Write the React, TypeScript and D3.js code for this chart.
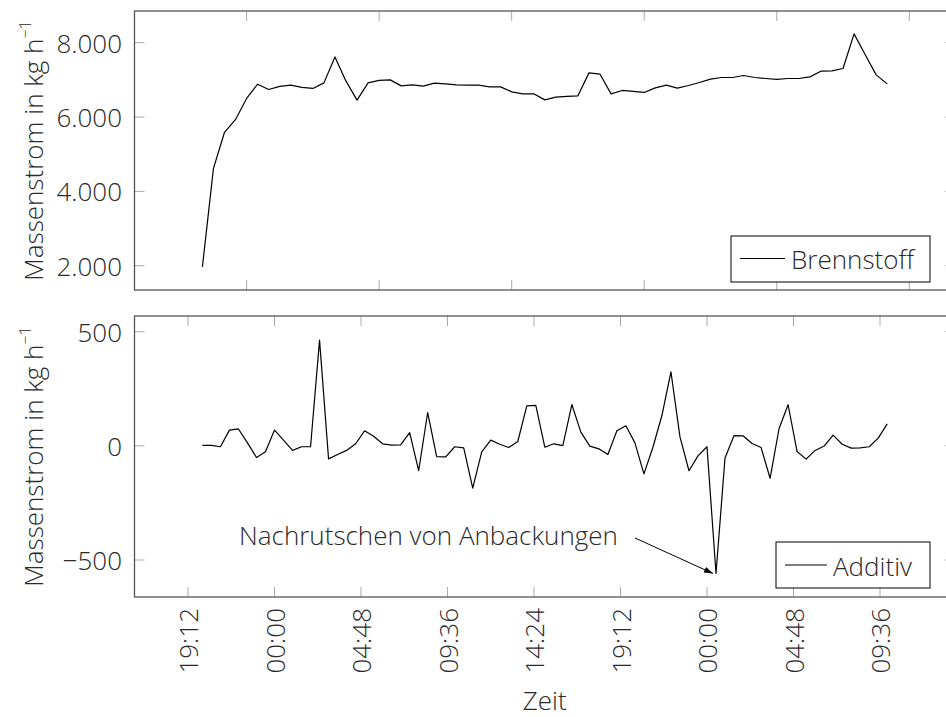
import React from "react";
import * as d3 from "d3";

// Brennstoff (kg/h), 63 samples, evenly spaced from 20:00 (day 1) to 10:00 (day 3)
const brennstoff = [
  1970, 4620, 5590, 5935, 6500, 6884, 6742, 6823, 6858, 6796, 6769, 6919, 7618, 6965, 6454, 6919,
  6984, 7000, 6839, 6866, 6831, 6911, 6892, 6866, 6858, 6858, 6812, 6812, 6677, 6624, 6624, 6462,
  6535, 6554, 6570, 7188, 7153, 6624, 6715, 6688, 6661, 6785, 6858, 6777, 6849, 6930, 7019, 7064,
  7064, 7118, 7064, 7037, 7011, 7037, 7037, 7081, 7234, 7242, 7306, 8237, 7683, 7135, 6892,
];

// Additiv (kg/h), 77 samples, every 30 min from 20:00 (day 1) to 10:00 (day 3)
const additiv = [
  2, 2, -4, 69, 74, 13, -51, -26, 69, 25, -20, -4, -4, 463, -57, -38, -20, 9, 66, 42, 9, 3, 4, 58,
  -109, 146, -47, -48, -4, -9, -185, -26, 25, 7, -7, 19, 175, 177, -6, 9, 1, 181, 60, -1, -13, -38,
  66, 88, 13, -123, -6, 134, 324, 39, -109, -44, -4, -559, -53, 45, 44, 10, -7, -142, 76, 180, -25,
  -58, -20, -1, 47, 7, -10, -9, -4, 34, 96,
];

const startHour = 20; // 20:00 day 1
const endHour = 58; // 10:00 day 3

const xTickHours = [19.2, 24, 28.8, 33.6, 38.4, 43.2, 48, 52.8, 57.6, 62.4];
const xTickLabels = ["19:12", "00:00", "04:48", "09:36", "14:24", "19:12", "00:00", "04:48", "09:36", ""];
const topTickIndex = [-8, 4, 16, 28, 40, 52, 64, 76];

const topYTicks = [2000, 4000, 6000, 8000];
const bottomYTicks = [-500, 0, 500];

const annotationText = "Nachrutschen von Anbackungen";
const yLabel = "Massenstrom in kg h";
const xLabel = "Zeit";

const FONT = "'Open Sans', sans-serif";
const FRAME = "#555";
const TICK = "#aaa";
const TEXT = "#2a2a2a";

const de = d3.formatLocale({ decimal: ",", thousands: ".", grouping: [3], currency: ["", " €"], minus: "\u2212" });
const fmt = de.format(",");

export default function App() {
  const left = 134.5;
  const right = 955;
  const x = d3.scaleLinear().domain([19.2, 57.6]).range([188, 880]);

  const topTime = (i: number) => startHour + (i * (endHour - startHour)) / (brennstoff.length - 1);
  const botTime = (i: number) => startHour + (i * (endHour - startHour)) / (additiv.length - 1);

  const top = { y0: 11, y1: 290 };
  const bot = { y0: 316, y1: 597 };
  const yTop = d3.scaleLinear().domain([2000, 8000]).range([265.7, 42.7]);
  const yBot = d3.scaleLinear().domain([-500, 500]).range([560, 331.7]);

  const lineTop = d3
    .line<number>()
    .x((_, i) => x(topTime(i)))
    .y((d) => yTop(d));
  const lineBot = d3
    .line<number>()
    .x((_, i) => x(botTime(i)))
    .y((d) => yBot(d));

  const tickLen = 10;
  const fs = 26;

  const frame = (p: { y0: number; y1: number }) => (
    <rect x={left} y={p.y0} width={right - left} height={p.y1 - p.y0} fill="none" stroke={FRAME} strokeWidth={1.3} />
  );

  const vTicks = (xs: number[], p: { y0: number; y1: number }) =>
    xs
      .filter((v) => v > left && v < right)
      .map((v, i) => (
        <g key={i}>
          <line x1={v} x2={v} y1={p.y0} y2={p.y0 + tickLen} stroke={TICK} />
          <line x1={v} x2={v} y1={p.y1} y2={p.y1 - tickLen} stroke={TICK} />
        </g>
      ));

  const hTicks = (vals: number[], y: d3.ScaleLinear<number, number>) =>
    vals.map((v, i) => (
      <g key={i}>
        <line x1={left} x2={left + tickLen} y1={y(v)} y2={y(v)} stroke={TICK} />
        <line x1={right} x2={right - tickLen} y1={y(v)} y2={y(v)} stroke={TICK} />
        <text x={122} y={y(v)} textAnchor="end" dominantBaseline="central" fontSize={fs} fill={TEXT}>
          {fmt(v)}
        </text>
      </g>
    ));

  const yAxisLabel = (cy: number) => (
    <text transform={`translate(43,${cy}) rotate(-90)`} textAnchor="middle" fontSize={fs} fill={TEXT}>
      {yLabel}
      <tspan fontSize={16} dy={-12}>
        {"\u22121"}
      </tspan>
    </text>
  );

  const minIdx = additiv.indexOf(d3.min(additiv) as number);
  const ax = x(botTime(minIdx));
  const ay = yBot(additiv[minIdx]);

  return (
    <svg width={946} height={717} style={{ position: "absolute", left: 0, top: 0, background: "#fff" }} fontFamily={FONT} fontWeight={300}>
      <defs>
        <marker id="arr" viewBox="0 0 10 10" refX={10} refY={5} markerWidth={9} markerHeight={9} orient="auto" markerUnits="userSpaceOnUse">
          <path d="M0,1.5 L10,5 L0,8.5 Z" fill="#000" />
        </marker>
      </defs>

      {/* Top chart */}
      {vTicks(topTickIndex.map((k) => x(topTime(k))), top)}
      {hTicks(topYTicks, yTop)}
      <path d={lineTop(brennstoff) || ""} fill="none" stroke="#000" strokeWidth={1.2} strokeLinejoin="round" />
      {frame(top)}
      {yAxisLabel((top.y0 + top.y1) / 2)}
      <g>
        <rect x={731} y={236} width={199} height={46} fill="#fff" stroke="#000" strokeWidth={1} />
        <line x1={740} x2={785} y1={258.5} y2={258.5} stroke="#000" strokeWidth={1.2} />
        <text x={791} y={259} dominantBaseline="central" fontSize={fs} fill={TEXT}>
          Brennstoff
        </text>
      </g>

      {/* Bottom chart */}
      {vTicks(xTickHours.map((h) => x(h)), bot)}
      {hTicks(bottomYTicks, yBot)}
      <path d={lineBot(additiv) || ""} fill="none" stroke="#000" strokeWidth={1.2} strokeLinejoin="round" />
      {frame(bot)}
      {yAxisLabel((bot.y0 + bot.y1) / 2)}
      <g>
        <rect x={776} y={542} width={154} height={46} fill="#fff" stroke="#000" strokeWidth={1} />
        <line x1={785} x2={827} y1={565} y2={565} stroke="#000" strokeWidth={1.2} />
        <text x={833} y={565.5} dominantBaseline="central" fontSize={fs} fill={TEXT}>
          Additiv
        </text>
      </g>

      {/* Annotation */}
      <text x={239} y={545} fontSize={fs} fill={TEXT}>
        {annotationText}
      </text>
      <line x1={635} y1={538} x2={ax - 3} y2={ay} stroke="#000" strokeWidth={1} markerEnd="url(#arr)" />

      {/* X tick labels */}
      {xTickHours.map((h, i) =>
        x(h) > left && x(h) < right && xTickLabels[i] ? (
          <text key={i} transform={`translate(${x(h)},608) rotate(-90)`} textAnchor="end" dominantBaseline="central" fontSize={fs} fill={TEXT}>
            {xTickLabels[i]}
          </text>
        ) : null
      )}
      <text x={(left + right) / 2} y={710} textAnchor="middle" fontSize={fs} fill={TEXT}>
        {xLabel}
      </text>
    </svg>
  );
}
